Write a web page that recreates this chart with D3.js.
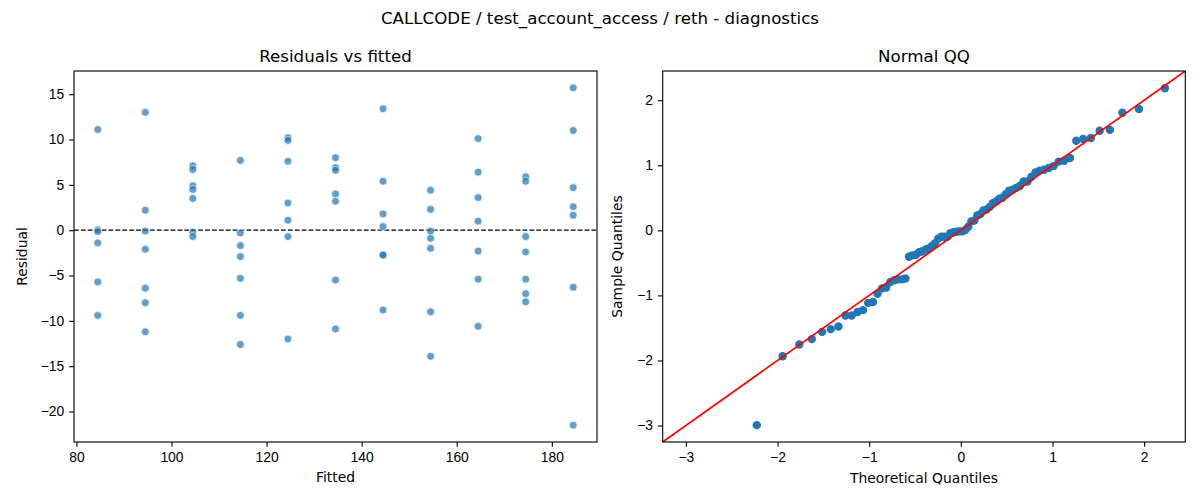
<!DOCTYPE html>
<html>
<head>
<meta charset="utf-8">
<script src="https://cdn.jsdelivr.net/npm/d3@7"></script>
<style>
  html, body { margin: 0; padding: 0; background: #fff; }
  svg { display: block; font-family: "DejaVu Sans", sans-serif; }
  .tick text { font-size: 13.89px; fill: #000; }
  .tick line { stroke: #000; stroke-width: 1.11; }
</style>
</head>
<body>
<svg id="chart" width="1200" height="500"></svg>
<script>
// ---- data ----
const fittedLevels = [84.5, 94.5, 104.5, 114.5, 124.5, 134.5, 144.5, 154.5, 164.5, 174.5, 184.5];
const res084 = [11.1, 0.05, -0.15, -1.4, -5.7, -9.4];
const res094 = [13.0, 2.2, -0.1, -2.1, -6.4, -8.0, -11.2];
const res104 = [7.1, 6.7, 4.9, 4.5, 3.5, -0.2, -0.7];
const res114 = [7.7, -0.3, -1.7, -2.9, -5.3, -9.4, -12.6];
const res124 = [10.2, 9.9, 7.6, 3.0, 1.1, -0.7, -12.0];
const res134 = [8.0, 6.9, 6.6, 4.0, 3.2, -5.5, -10.9];
const res144 = [13.4, 5.4, 1.8, 0.4, -2.7, -2.75, -8.8];
const res154 = [4.4, 2.3, -0.1, -0.9, -2.0, -9.0, -13.9];
const res164 = [10.1, 6.4, 3.6, 1.0, -2.3, -5.4, -10.6];
const res174 = [5.9, 5.4, -0.7, -2.4, -5.4, -7.0, -7.9];
const res184 = [15.7, 11.0, 4.7, 2.6, 1.65, -6.3, -21.5];
const residualGroups = [res084, res094, res104, res114, res124, res134, res144, res154, res164, res174, res184];
const leftXTicks = [80, 100, 120, 140, 160, 180];
const leftYTicks = [-20, -15, -10, -5, 0, 5, 10, 15];
const qqTicks = [-3, -2, -1, 0, 1, 2];
const suptitle = "CALLCODE / test_account_access / reth - diagnostics";

// ---- derived ----
const points = [];
fittedLevels.forEach((f, i) => residualGroups[i].forEach(r => points.push({ f, r })));

// inverse normal CDF (Acklam)
function normInv(p) {
  const a = [-3.969683028665376e+01, 2.209460984245205e+02, -2.759285104469687e+02, 1.383577518672690e+02, -3.066479806614716e+01, 2.506628277459239e+00];
  const b = [-5.447609879822406e+01, 1.615858368580409e+02, -1.556989798598866e+02, 6.680131188771972e+01, -1.328068155288572e+01];
  const c = [-7.784894002430293e-03, -3.223964580411365e-01, -2.400758277161838e+00, -2.549732539343734e+00, 4.374664141464968e+00, 2.938163982698783e+00];
  const d = [7.784695709041462e-03, 3.224671290700398e-01, 2.445134137142996e+00, 3.754408661907416e+00];
  const pl = 0.02425, ph = 1 - pl;
  let q, r;
  if (p < pl) { q = Math.sqrt(-2 * Math.log(p)); return (((((c[0]*q+c[1])*q+c[2])*q+c[3])*q+c[4])*q+c[5]) / ((((d[0]*q+d[1])*q+d[2])*q+d[3])*q+1); }
  if (p <= ph) { q = p - 0.5; r = q*q; return (((((a[0]*r+a[1])*r+a[2])*r+a[3])*r+a[4])*r+a[5])*q / (((((b[0]*r+b[1])*r+b[2])*r+b[3])*r+b[4])*r+1); }
  q = Math.sqrt(-2 * Math.log(1 - p)); return -(((((c[0]*q+c[1])*q+c[2])*q+c[3])*q+c[4])*q+c[5]) / ((((d[0]*q+d[1])*q+d[2])*q+d[3])*q+1);
}
const allRes = points.map(p => p.r).sort((a, b) => a - b);
const n = allRes.length;
const mu = d3.mean(allRes);
const sd = Math.sqrt(d3.mean(allRes, v => (v - mu) * (v - mu)));
const qq = allRes.map((v, i) => ({ t: normInv((i + 1) / (n + 1)), s: (v - mu) / sd }));

// ---- layout ----
const svg = d3.select("#chart");
const L = { x0: 74, x1: 597, y0: 71, y1: 442 };
const R = { x0: 662.7, x1: 1185.3, y0: 71, y1: 442 };
const TK = 4.86;

svg.append("text").attr("x", 600).attr("y", 24).attr("text-anchor", "middle")
  .attr("font-size", 16.67).text(suptitle);

function pad(ext) { const r = ext[1] - ext[0]; return [ext[0] - 0.05 * r, ext[1] + 0.05 * r]; }

// ---- left panel ----
const xL = d3.scaleLinear().domain(pad(d3.extent(fittedLevels))).range([L.x0, L.x1]);
const yL = d3.scaleLinear().domain(pad(d3.extent(points, p => p.r))).range([L.y1, L.y0]);

svg.append("text").attr("x", (L.x0 + L.x1) / 2).attr("y", 62).attr("text-anchor", "middle")
  .attr("font-size", 16.67).text("Residuals vs fitted");

svg.append("g").attr("transform", `translate(0,${L.y1})`)
  .call(d3.axisBottom(xL).tickValues(leftXTicks).tickSize(TK).tickPadding(TK).tickFormat(d3.format("d")))
  .call(g => g.select(".domain").remove());
svg.append("g").attr("transform", `translate(${L.x0},0)`)
  .call(d3.axisLeft(yL).tickValues(leftYTicks).tickSize(TK).tickPadding(TK).tickFormat(d3.format("d")))
  .call(g => g.select(".domain").remove());

svg.append("line").attr("x1", L.x0).attr("x2", L.x1).attr("y1", yL(0)).attr("y2", yL(0))
  .attr("stroke", "#000").attr("stroke-width", 1.3).attr("stroke-dasharray", "4.8,2.1");

svg.append("g").selectAll("circle").data(points).join("circle")
  .attr("cx", d => xL(d.f)).attr("cy", d => yL(d.r)).attr("r", 4)
  .attr("fill", "#1f77b4").attr("stroke", "#fff").attr("stroke-width", 0.8).attr("opacity", 0.7);

svg.append("rect").attr("x", L.x0).attr("y", L.y0).attr("width", L.x1 - L.x0).attr("height", L.y1 - L.y0)
  .attr("fill", "none").attr("stroke", "#000").attr("stroke-width", 1.11);

svg.append("text").attr("x", (L.x0 + L.x1) / 2).attr("y", 482).attr("text-anchor", "middle")
  .attr("font-size", 13.89).text("Fitted");
svg.append("text").attr("transform", `translate(27,${(L.y0 + L.y1) / 2}) rotate(-90)`).attr("text-anchor", "middle")
  .attr("font-size", 13.89).text("Residual");

// ---- right panel ----
const xlim = pad(d3.extent(qq, d => d.t));
const ylim = pad(d3.extent(qq, d => d.s));
const lo = Math.min(xlim[0], ylim[0]), hi = Math.max(xlim[1], ylim[1]);
const xR = d3.scaleLinear().domain([lo, hi]).range([R.x0, R.x1]);
const yR = d3.scaleLinear().domain([lo, hi]).range([R.y1, R.y0]);

svg.append("text").attr("x", (R.x0 + R.x1) / 2).attr("y", 62).attr("text-anchor", "middle")
  .attr("font-size", 16.67).text("Normal QQ");

svg.append("g").attr("transform", `translate(0,${R.y1})`)
  .call(d3.axisBottom(xR).tickValues(qqTicks).tickSize(TK).tickPadding(TK).tickFormat(d3.format("d")))
  .call(g => g.select(".domain").remove());
svg.append("g").attr("transform", `translate(${R.x0},0)`)
  .call(d3.axisLeft(yR).tickValues(qqTicks).tickSize(TK).tickPadding(TK).tickFormat(d3.format("d")))
  .call(g => g.select(".domain").remove());

svg.append("defs").append("clipPath").attr("id", "clipR").append("rect")
  .attr("x", R.x0).attr("y", R.y0).attr("width", R.x1 - R.x0).attr("height", R.y1 - R.y0);

svg.append("g").selectAll("circle").data(qq).join("circle")
  .attr("cx", d => xR(d.t)).attr("cy", d => yR(d.s)).attr("r", 4.2)
  .attr("fill", "#1f77b4");

svg.append("line").attr("clip-path", "url(#clipR)")
  .attr("x1", xR(lo)).attr("y1", yR(lo)).attr("x2", xR(hi)).attr("y2", yR(hi))
  .attr("stroke", "red").attr("stroke-width", 1.7);

svg.append("rect").attr("x", R.x0).attr("y", R.y0).attr("width", R.x1 - R.x0).attr("height", R.y1 - R.y0)
  .attr("fill", "none").attr("stroke", "#000").attr("stroke-width", 1.11);

svg.append("text").attr("x", (R.x0 + R.x1) / 2).attr("y", 483).attr("text-anchor", "middle")
  .attr("font-size", 13.89).text("Theoretical Quantiles");
svg.append("text").attr("transform", `translate(622,${(R.y0 + R.y1) / 2}) rotate(-90)`).attr("text-anchor", "middle")
  .attr("font-size", 13.89).text("Sample Quantiles");
</script>
</body>
</html>
